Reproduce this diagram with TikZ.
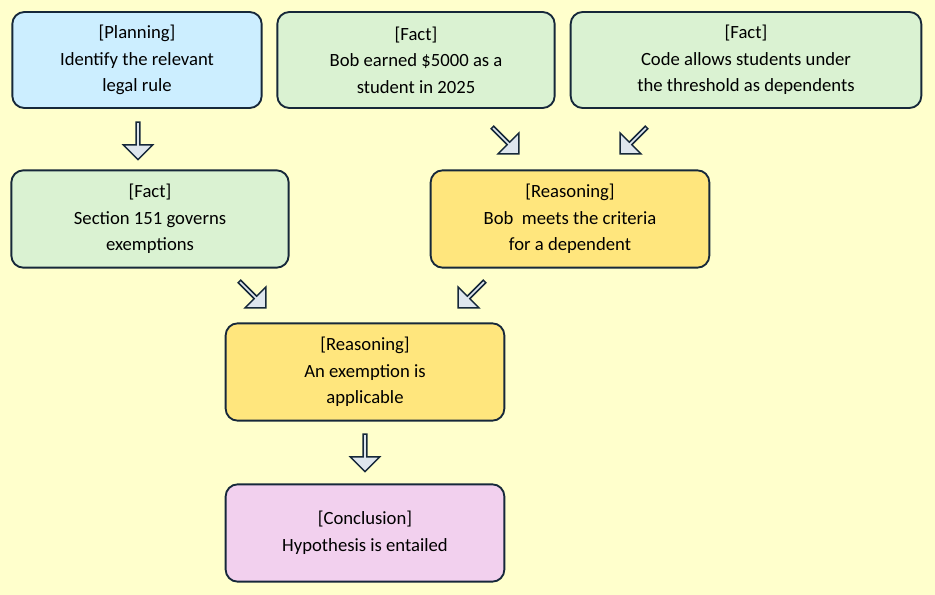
\documentclass[tikz,border=0pt]{standalone}
\usepackage{fontspec}
\setmainfont{Carlito}
\usetikzlibrary{shapes.arrows}
\definecolor{bgyel}{RGB}{255,255,204}
\definecolor{planblue}{RGB}{204,238,255}
\definecolor{factgreen}{RGB}{218,242,210}
\definecolor{reasyel}{RGB}{255,230,125}
\definecolor{concpink}{RGB}{242,208,238}
\definecolor{edge}{RGB}{22,40,58}
\definecolor{arrfill}{RGB}{222,230,238}

\tikzset{
  box/.style={draw=edge, line width=1.4pt, rounded corners=9pt, align=center,
              font=\fontsize{14}{20}\selectfont, inner sep=0pt},
  blk/.style={single arrow, draw=edge, line width=1.1pt, fill=arrfill,
              minimum height=28pt, minimum width=22pt, single arrow head extend=4pt,
              inner sep=0pt, single arrow tip angle=90}
}

\begin{document}
\begin{tikzpicture}[x=0.75pt, y=-0.75pt]
    % Background
    \fill[bgyel] (0,0) rectangle (935,595);
    \useasboundingbox (0,0) rectangle (935,595);

    % Boxes
    \node [box, fill=planblue, minimum width=187pt, minimum height=72pt]  (plan)  at (137,60)  {[Planning]\\Identify the relevant\\legal rule};
    \node [box, fill=factgreen, minimum width=208pt, minimum height=72pt] (fact1) at (416,60)  {[Fact]\\Bob earned \$5000 as a\\student in 2025};
    \node [box, fill=factgreen, minimum width=263pt, minimum height=72pt] (fact2) at (746,60)  {[Fact]\\Code allows students under\\the threshold as dependents};
    \node [box, fill=factgreen, minimum width=208pt, minimum height=73pt] (fact3) at (150,219) {[Fact]\\Section 151 governs\\exemptions};
    \node [box, fill=reasyel, minimum width=209pt, minimum height=73pt]   (reas1) at (570,219) {[Reasoning]\\Bob\ \ meets the criteria\\for a dependent};
    \node [box, fill=reasyel, minimum width=209pt, minimum height=73pt]   (reas2) at (365,372) {[Reasoning]\\An exemption is\\applicable};
    \node [box, fill=concpink, minimum width=209pt, minimum height=73pt]  (conc)  at (365,533) {[Conclusion]\\Hypothesis is entailed};

    % Block arrows
    \node [blk, rotate=-90] (a1) at (138,140) {};
    \node [blk, rotate=-45] (a2) at (505,140) {};
    \node [blk, rotate=-135] (a3) at (634,140) {};
    \node [blk, rotate=-45] (a4) at (252,294) {};
    \node [blk, rotate=-135] (a5) at (472,294) {};
    \node [blk, rotate=-90] (a6) at (365,452) {};
\end{tikzpicture}
\end{document}
